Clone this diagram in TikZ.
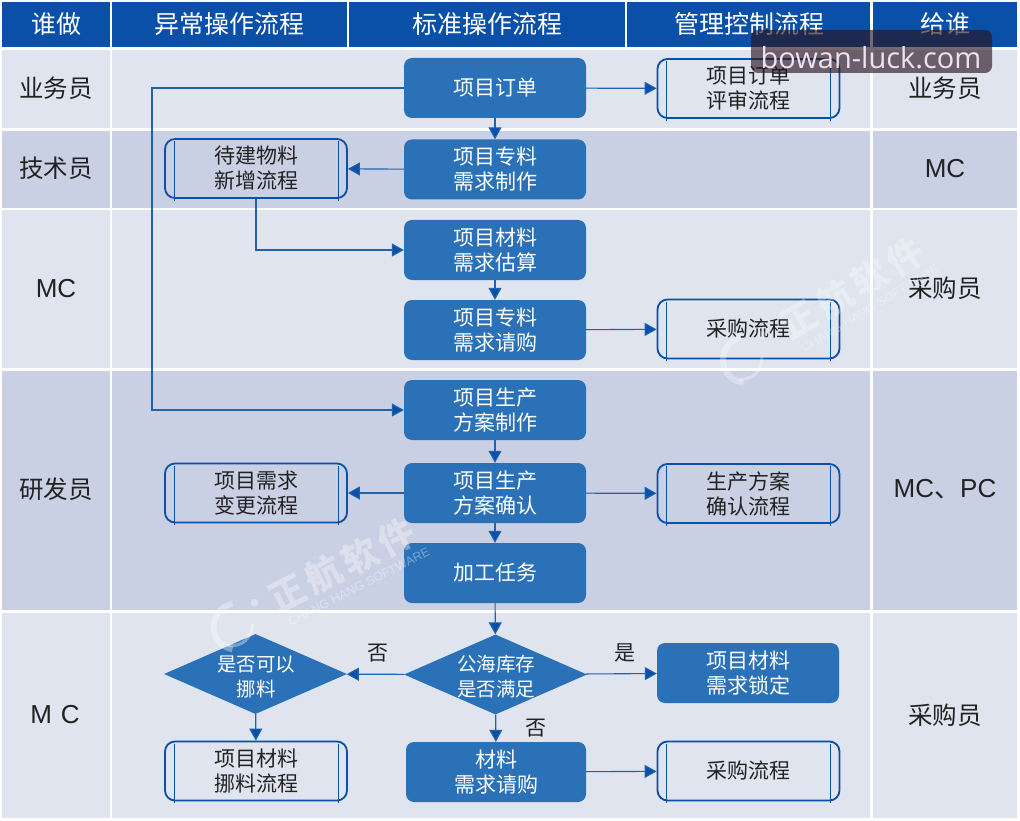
\documentclass[tikz,border=0pt]{standalone}
\usepackage{fontspec}
\setmainfont{Noto Sans CJK SC}
\newfontfamily\latinf{Liberation Sans}
\newfontfamily\wmf{Open Sans}
\usetikzlibrary{arrows.meta,shapes.geometric}
\definecolor{hdr}{HTML}{0A4FA8}
\definecolor{rowl}{HTML}{DFE4EE}
\definecolor{rowd}{HTML}{C9D0E4}
\definecolor{boxc}{HTML}{2B71B8}
\definecolor{linec}{HTML}{1F63B0}
\definecolor{tipc}{HTML}{0A4FA8}
\definecolor{inkc}{HTML}{222222}
\definecolor{stampbg}{HTML}{29141D}
\definecolor{stampfg}{HTML}{F0E1F0}
\tikzset{
  x=1pt,y=-1pt,
  txt/.style={font=\fontsize{21}{25}\selectfont,align=center,inner sep=0pt},
  headtxt/.style={text=white,font=\fontsize{25}{28}\selectfont,inner sep=0pt},
  sidetxt/.style={text=inkc,font=\fontsize{24.5}{28}\selectfont,inner sep=0pt},
  latintxt/.style={text=inkc,font=\latinf\fontsize{26}{28}\selectfont,inner sep=0pt},
  taskbox/.style={txt,text=white,fill=boxc,rounded corners=8pt,minimum width=182pt,minimum height=60pt},
  subbox/.style={txt,text=inkc,draw=hdr,line width=1.8pt,rounded corners=10pt,minimum width=182pt,minimum height=59pt},
  subline/.style={draw=hdr,line width=.8pt},
  decide/.style={fill=boxc,diamond,aspect=2.3,inner sep=0pt,minimum width=183pt,minimum height=80pt},
  decidetxt/.style={text=white,font=\fontsize{19.5}{24.5}\selectfont,align=center,inner sep=0pt},
  flow/.style={draw=linec,line width=1.1pt,-{Triangle[length=12pt,width=13pt,fill=tipc]}},
  branchmark/.style={text=inkc,font=\fontsize{21}{25}\selectfont,inner sep=0pt},
}
\newcommand{\band}[5]{\fill[#5] (#1,#2) rectangle (#3,#4);}
% #1 name prefix, #2 centre, #3 angle, #4 opacity, #5 logo x offset
\newcommand{\wmark}[5]{%
\begin{scope}[shift={#2},rotate=#3,transform shape,opacity=#4]
  \node[text=white,inner sep=0pt,font=\fontsize{36}{36}\selectfont\bfseries] (#1a) at (0,0) {正\kern5pt 航\kern5pt 软\kern5pt 件};
  \node[text=white,inner sep=0pt,font=\latinf\fontsize{12.4}{13}\selectfont] (#1b) at (5,27) {CHANG HANG SOFTWARE};
  \draw[white,line width=6pt] ([shift={(-73:23)}]#5,7) arc[start angle=-73,end angle=-233,radius=23];
  \fill[white] (#5+27,-6) circle[radius=4];
  \draw[white,line width=3pt] (#5-16,20) .. controls (#5-4,28) and (#5+8,24) .. (#5+16,12);
\end{scope}}
\begin{document}
\begin{tikzpicture}
\useasboundingbox (0,0) rectangle (1020,821);
\fill[white] (0,0) rectangle (1020,821);
% table cells
\foreach \xa/\xb in {2/110,112/347,349/625,627/870,873/1017}{
  \band{\xa}{2}{\xb}{47}{hdr}
  \band{\xa}{50}{\xb}{128}{rowl}
  \band{\xa}{131}{\xb}{208}{rowd}
  \band{\xa}{210}{\xb}{368}{rowl}
  \band{\xa}{371}{\xb}{610}{rowd}
  \band{\xa}{613}{\xb}{818}{rowl}
}
\fill[rowl] (112,50) rectangle (870,128);
\fill[rowd] (112,131) rectangle (870,208);
\fill[rowl] (112,210) rectangle (870,368);
\fill[rowd] (112,371) rectangle (870,610);
\fill[rowl] (112,613) rectangle (870,818);
% headers
\node[headtxt] (h1) at (56,24) {谁做};
\node[headtxt] (h2) at (229,24) {异常操作流程};
\node[headtxt] (h3) at (487,24) {标准操作流程};
\node[headtxt] (h4) at (749,24) {管理控制流程};
\node[headtxt] (h5) at (945,24) {给谁};
% left labels
\node[sidetxt] (l1) at (56,88) {业务员};
\node[sidetxt] (l2) at (56,168) {技术员};
\node[latintxt] (l3) at (56,289) {MC};
\node[sidetxt] (l4) at (56,489) {研发员};
\node[latintxt] (l5) at (55,715) {M\,\,C};
% right labels
\node[sidetxt] (r1) at (945,88) {业务员};
\node[latintxt] (r2) at (945,169) {MC};
\node[sidetxt] (r3) at (945,288) {采购员};
\node[latintxt] (r4) at (945,489) {MC{\fontspec{Noto Sans CJK SC}、}PC};
\node[sidetxt] (r5) at (945,715) {采购员};
% centre column
\node[taskbox] (a) at (495,88) {项目订单};
\node[taskbox] (b) at (495,169.5) {项目专料\\需求制作};
\node[taskbox] (c) at (495,250) {项目材料\\需求估算};
\node[taskbox] (d) at (495,330) {项目专料\\需求请购};
\node[taskbox] (e) at (495,410) {项目生产\\方案制作};
\node[taskbox] (f) at (495,493) {项目生产\\方案确认};
\node[taskbox] (g) at (495,573) {加工任务};
\node[decide] (q) at (495.5,674.5) {};
\node[decidetxt] (qt) at (496,676.5) {公海库存\\是否满足};
\node[taskbox,minimum width=180pt] (m) at (496,772) {材料\\需求请购};
% left column
\node[subbox] (p1) at (256,168.5) {待建物料\\新增流程};
\node[subbox] (p2) at (256,493) {项目需求\\变更流程};
\node[decide] (q2) at (255.5,674) {};
\node[decidetxt] (q2t) at (256,677) {是否可以\\挪料};
\node[subbox] (p3) at (256,771) {项目材料\\挪料流程};
% right column
\node[subbox] (s1) at (748.5,88.5) {项目订单\\评审流程};
\node[subbox] (s2) at (748.5,329) {采购流程};
\node[subbox] (s3) at (748.5,493.5) {生产方案\\确认流程};
\node[taskbox] (s4) at (748,673) {项目材料\\需求锁定};
\node[subbox] (s5) at (748.5,771) {采购流程};
% inner rules of the predefined-process boxes
\foreach \n in {p1,p2,p3,s1,s2,s3,s5}{
  \draw[subline] ([xshift=10pt,yshift=-3pt]\n.north west) -- ([xshift=10pt,yshift=-2pt]\n.south west);
  \draw[subline] ([xshift=-10pt,yshift=-3pt]\n.north east) -- ([xshift=-10pt,yshift=-2pt]\n.south east);
}
% connectors
\coordinate (elbow) at (152,250);
\draw[flow] (a) -- (b);
\draw[flow] (c) -- (d);
\draw[flow] (e) -- (f);
\draw[flow] (f) -- (g);
\draw[flow] (g) -- (q);
\draw[flow] (q) -- (m);
\draw[flow] (q2) -- (p3);
\draw[flow] (a) -- (s1);
\draw[flow] (b) -- (p1);
\draw[flow] (d) -- (s2);
\draw[flow] (f) -- (p2);
\draw[flow] (f) -- (s3);
\draw[flow] (q) -- (q2);
\draw[flow] (q) -- (s4);
\draw[flow] (m) -- (s5);
\draw[flow] (p1.south) |- (c.west);
\draw[flow] (a.west) -| (elbow) |- (e.west);
% branch marks
\node[branchmark] (no1) at (378,653) {否};
\node[branchmark] (yes) at (625,653) {是};
\node[branchmark] (no2) at (536,728) {否};
% faint watermarks
\wmark{wa}{(342,565)}{27}{.36}{-122}
\wmark{wb}{(852,288)}{31}{.30}{-128}
% site stamp
\fill[stampbg,fill opacity=.64,rounded corners=7pt] (751,30) rectangle (992,73);
\node[text=stampfg,font=\wmf\fontsize{29}{30}\selectfont,inner sep=0pt] (stamp) at (871,58) {bowan-luck.com};
\end{tikzpicture}
\end{document}
